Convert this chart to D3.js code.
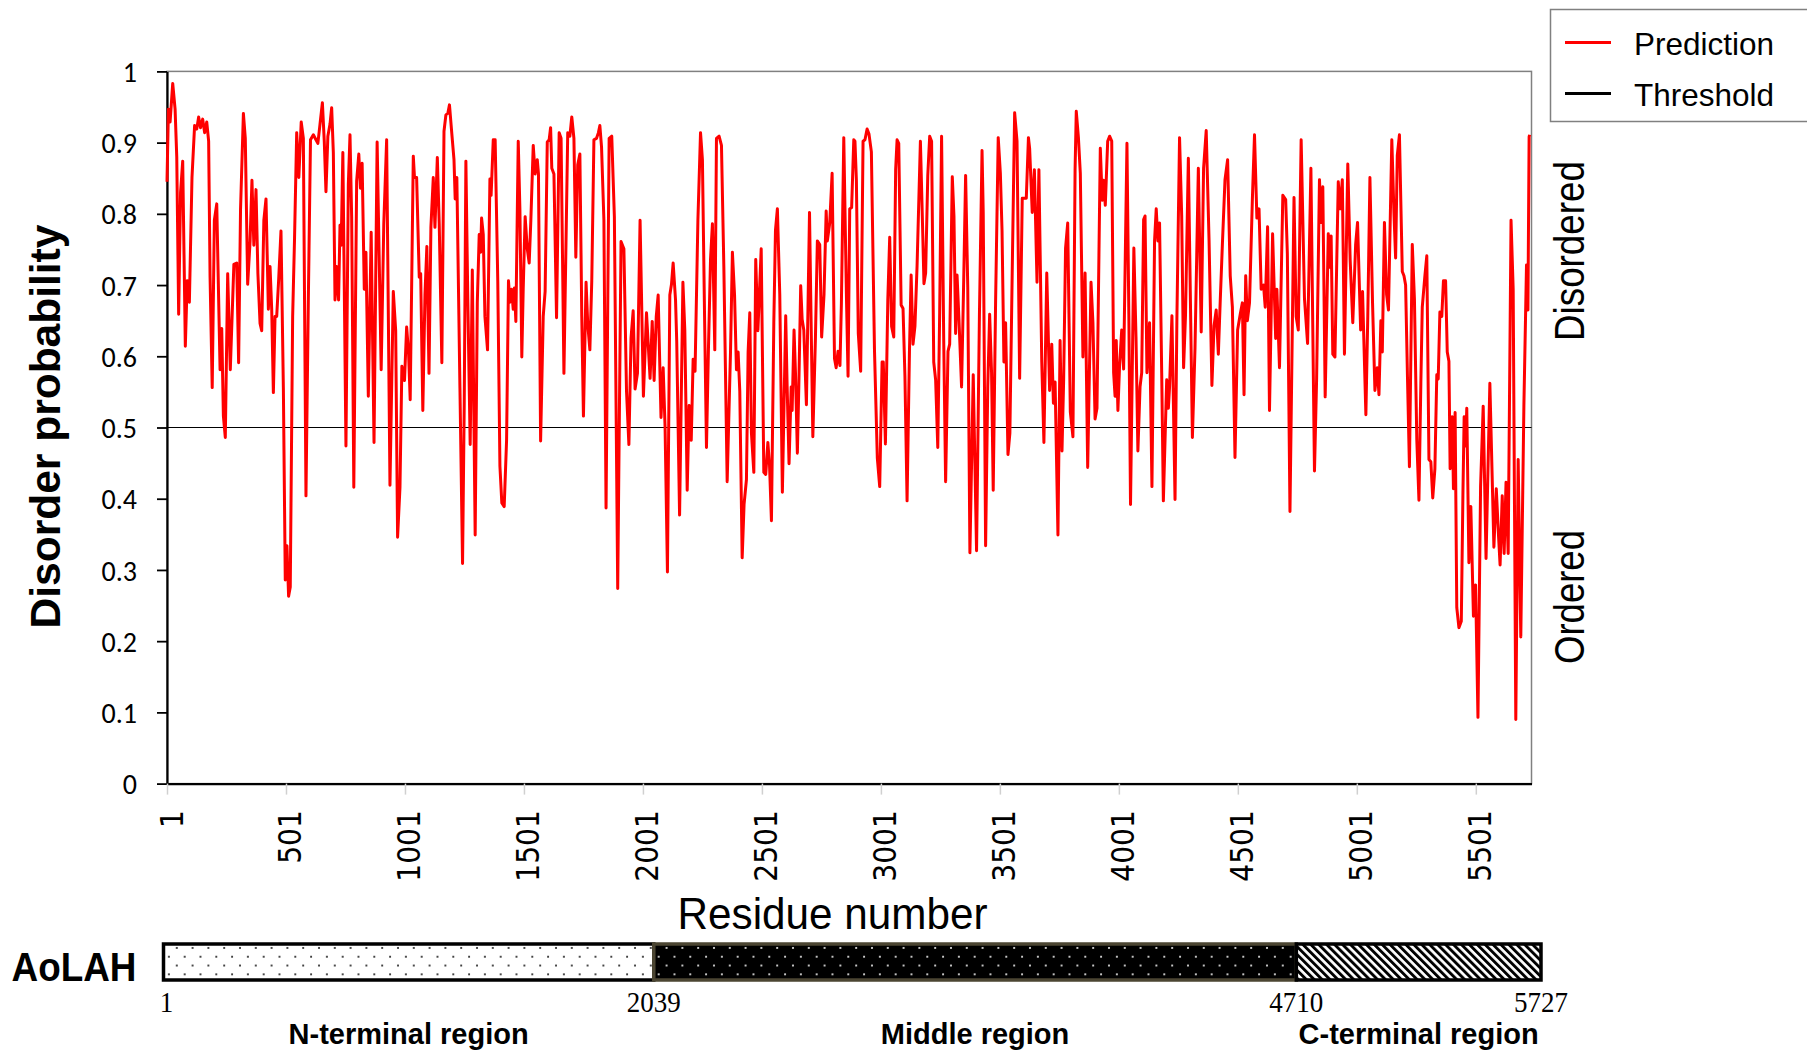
<!DOCTYPE html>
<html><head><meta charset="utf-8">
<script src="https://cdn.jsdelivr.net/npm/d3@7/dist/d3.min.js"></script>
<style>html,body{margin:0;padding:0;background:#fff;overflow:hidden}</style>
</head><body>
<svg id="chart" width="1807" height="1051"></svg>
<script>
// ---- data ----
const residues = [1,7,14,25,35,42,50,58,67,78,86,95,106,117,126,134,142,151,159,168,176,182,191,200,210,224,231,238,246,256,267,282,294,302,310,322,330,340,350,358,366,375,383,392,399,408,417,427,434,441,448,455,462,470,480,490,498,505,512,519,529,537,546,555,565,574,585,595,604,616,627,635,644,654,662,669,677,686,693,700,707,714,722,728,733,740,753,763,770,777,786,798,807,814,821,830,837,847,859,871,884,901,912,924,938,952,962,970,980,988,999,1008,1016,1023,1036,1041,1050,1061,1067,1076,1085,1093,1102,1110,1120,1127,1137,1145,1156,1165,1173,1181,1188,1197,1207,1212,1219,1232,1243,1250,1257,1265,1275,1284,1296,1305,1313,1319,1323,1330,1337,1348,1358,1363,1372,1380,1391,1400,1408,1418,
1428,1436,1442,1449,1456,1461,1467,1477,1484,1492,1498,1506,1515,1523,1530,1540,1548,1557,1562,1571,1582,1590,1599,1607,1613,1618,1627,1638,1649,1657,1669,1685,1694,1702,1711,1719,1727,1736,1744,1751,1762,1769,1778,1786,1795,1806,1814,1820,1827,1837,1846,1859,1870,1881,1895,1909,1921,1932,1942,1951,1960,1968,1978,1989,2003,2016,2031,2040,2048,2057,2065,2077,2086,2094,2104,2114,2121,2128,2138,2143,2155,2169,2177,2187,2195,2204,2212,2220,2232,2243,2251,2260,2268,2276,2285,2293,2303,2310,2321,2331,2341,2355,2369,2377,2386,2394,2401,2408,2418,2426,2436,2443,2450,2457,2467,2475,2484,2489,2498,2509,2517,2526,2533,2541,2551,2558,2566,2576,2587,2601,2607,2615,2624,2628,2636,2642,2650,2656,2664,2670,2677,2688,2701,2706,2715,2726,2734,2744,2752,2762,2771,2776,2786,2796,2806,2813,2821,2829,2835,2845,2856,2863,2870,
2878,2887,2892,2898,2906,2916,2926,2934,2943,2951,2961,2974,2986,2996,3006,3011,3020,3030,3038,3046,3055,3063,3069,3076,3086,3094,3102,3111,3121,3128,3136,3144,3153,3167,3175,3182,3189,3198,3206,3214,3223,3231,3240,3248,3256,3265,3273,3283,3290,3301,3308,3315,3321,3329,3340,3349,3357,3366,3375,3389,3403,3415,3426,3431,3441,3450,3458,3466,3473,3483,3494,3503,3510,3518,3525,3535,3543,3553,3563,3573,3584,3595,3604,3612,3621,3626,3637,3646,3657,3665,3677,3686,3698,3710,3719,3726,3733,3745,3754,3762,3769,3777,3786,3797,3808,3817,3822,3831,3839,3850,3859,3870,3884,3892,3901,3909,3923,3931,3937,3944,3954,3962,3971,3979,3985,3990,3997,4004,4013,4021,4035,4043,4050,4064,4073,4081,4090,4097,4105,4111,4119,4130,4140,4151,4158,4165,4172,4181,4188,4202,4209,4214,4224,4237,4245,4256,4265,4273,4281,4293,
4310,4321,4335,4347,4357,4368,4380,4392,4401,4410,4419,4427,4436,4447,4458,4469,4478,4489,4500,4511,4520,4527,4534,4541,4550,4562,4571,4581,4590,4599,4609,4616,4626,4634,4647,4660,4665,4676,4690,4702,4709,4720,4737,4746,4755,4767,4781,4794,4808,4823,4832,4844,4851,4858,4868,4881,4889,4893,4900,4909,4923,4931,4940,4949,4963,4973,4984,4996,5004,5017,5025,5039,5047,5056,5067,5077,5087,5094,5102,5108,5117,5126,5134,5148,5157,5164,5171,5180,5192,5199,5206,5214,5222,5234,5243,5253,5262,5270,5276,5287,5295,5304,5312,5320,5329,5337,5343,5350,5358,5365,5374,5381,5388,5393,5402,5407,5414,5421,5430,5440,5447,5452,5458,5463,5472,5480,5491,5500,5510,5521,5532,5544,5560,5577,5587,5596,5603,5612,5620,5628,5637,5649,5658,5669,5679,5690,5703,5714,5720,5725,5727];
const disorder = [0.845,0.947,0.929,0.983,0.947,0.880,0.659,0.830,0.874,0.614,0.706,0.676,0.851,0.924,0.919,0.936,0.921,0.933,0.914,0.929,0.902,0.711,0.556,0.791,0.814,0.581,0.639,0.516,0.486,0.716,0.581,0.729,0.731,0.591,0.806,0.941,0.906,0.701,0.761,0.847,0.756,0.834,0.716,0.646,0.636,0.791,0.821,0.666,0.726,0.666,0.549,0.656,0.656,0.706,0.776,0.556,0.286,0.334,0.263,0.276,0.656,0.766,0.914,0.851,0.929,0.906,0.404,0.681,0.904,0.911,0.904,0.899,0.926,0.956,0.901,0.831,0.909,0.926,0.949,0.886,0.679,0.726,0.679,0.784,0.756,0.886,0.474,0.841,0.911,0.796,0.416,0.846,0.884,0.836,0.871,0.694,0.746,0.544,0.774,0.479,0.901,0.581,0.786,0.904,0.419,0.691,0.636,0.346,0.416,0.586,0.566,0.641,0.606,0.539,0.881,0.851,0.851,0.711,0.716,0.524,0.686,0.754,0.576,0.781,0.851,0.781,0.879,0.786,0.591,0.916,0.939,0.941,0.953,0.916,0.876,0.821,0.851,0.556,0.309,0.531,0.874,0.681,0.476,0.721,0.349,0.676,0.771,0.746,0.794,0.771,0.656,0.609,0.849,0.826,0.904,0.904,0.706,0.446,0.394,0.389,
0.482,0.706,0.676,0.694,0.666,0.696,0.649,0.902,0.806,0.599,0.696,0.796,0.751,0.731,0.791,0.896,0.856,0.876,0.856,0.481,0.656,0.691,0.901,0.904,0.921,0.864,0.856,0.654,0.914,0.906,0.576,0.914,0.909,0.936,0.906,0.739,0.869,0.884,0.656,0.516,0.704,0.646,0.609,0.706,0.904,0.906,0.914,0.924,0.894,0.791,0.387,0.906,0.909,0.796,0.274,0.761,0.751,0.551,0.476,0.626,0.664,0.554,0.576,0.791,0.544,0.661,0.569,0.649,0.566,0.656,0.686,0.514,0.584,0.501,0.297,0.686,0.701,0.731,0.679,0.621,0.377,0.704,0.636,0.412,0.531,0.482,0.596,0.579,0.791,0.914,0.876,0.656,0.472,0.606,0.736,0.786,0.609,0.906,0.909,0.896,0.726,0.424,0.606,0.746,0.686,0.581,0.606,0.551,0.317,0.392,0.427,0.606,0.661,0.492,0.437,0.736,0.636,0.676,0.751,0.437,0.434,0.479,0.447,0.369,0.647,0.777,0.807,0.687,0.409,0.657,0.557,0.449,0.557,0.524,0.637,0.577,0.464,0.557,0.699,0.652,0.637,0.532,0.802,0.687,0.487,0.627,0.762,0.757,0.627,0.687,0.804,0.762,0.787,0.857,0.597,0.584,0.607,0.587,0.674,0.907,0.687,0.572,0.807,
0.809,0.904,0.902,0.847,0.632,0.579,0.902,0.904,0.919,0.912,0.887,0.609,0.457,0.417,0.592,0.592,0.477,0.679,0.767,0.642,0.627,0.862,0.904,0.899,0.672,0.667,0.572,0.397,0.607,0.714,0.617,0.642,0.727,0.902,0.797,0.702,0.717,0.854,0.909,0.902,0.592,0.567,0.472,0.662,0.909,0.622,0.424,0.607,0.617,0.852,0.797,0.632,0.714,0.652,0.557,0.707,0.854,0.697,0.324,0.574,0.327,0.657,0.889,0.802,0.334,0.557,0.659,0.577,0.412,0.677,0.907,0.857,0.777,0.592,0.647,0.462,0.492,0.722,0.942,0.902,0.569,0.822,0.822,0.822,0.907,0.892,0.802,0.862,0.704,0.862,0.592,0.479,0.717,0.552,0.617,0.534,0.564,0.349,0.622,0.467,0.567,0.752,0.787,0.522,0.487,0.862,0.944,0.907,0.857,0.599,0.717,0.444,0.704,0.647,0.512,0.527,0.892,0.819,0.847,0.812,0.902,0.909,0.902,0.577,0.544,0.622,0.524,0.587,0.637,0.582,0.899,0.657,0.392,0.752,0.627,0.467,0.557,0.577,0.792,0.797,0.577,0.647,0.417,0.762,0.807,0.762,0.787,0.577,0.397,0.567,0.527,0.557,0.657,0.399,0.657,0.907,0.797,0.584,0.657,0.878,
0.486,0.612,0.864,0.634,0.864,0.917,0.763,0.559,0.643,0.665,0.603,0.678,0.757,0.848,0.876,0.713,0.669,0.458,0.637,0.659,0.675,0.546,0.713,0.650,0.675,0.820,0.911,0.794,0.807,0.694,0.700,0.669,0.782,0.524,0.772,0.625,0.694,0.584,0.826,0.820,0.744,0.382,0.823,0.656,0.637,0.904,0.681,0.618,0.864,0.439,0.568,0.848,0.788,0.838,0.543,0.772,0.725,0.769,0.603,0.599,0.845,0.807,0.848,0.603,0.870,0.735,0.647,0.757,0.788,0.637,0.691,0.518,0.656,0.851,0.675,0.552,0.584,0.546,0.650,0.606,0.788,0.687,0.665,0.904,0.801,0.738,0.882,0.911,0.719,0.713,0.700,0.568,0.445,0.757,0.681,0.483,0.398,0.562,0.669,0.713,0.741,0.455,0.452,0.401,0.442,0.574,0.568,0.662,0.656,0.706,0.706,0.606,0.593,0.442,0.515,0.414,0.521,0.247,0.219,0.228,0.411,0.515,0.474,0.527,0.310,0.389,0.235,0.279,0.093,0.417,0.530,0.316,0.562,0.332,0.414,0.351,0.307,0.404,0.323,0.423,0.323,0.791,0.694,0.090,0.455,0.206,0.530,0.728,0.665,0.908,0.911];
const threshold = [0.5];
const yTicks = [0,0.1,0.2,0.3,0.4,0.5,0.6,0.7,0.8,0.9,1];
const yTickLabels = ["0","0.1","0.2","0.3","0.4","0.5","0.6","0.7","0.8","0.9","1"];
const xTicks = [1,501,1001,1501,2001,2501,3001,3501,4001,4501,5001,5501];
const legendLabels = ["Prediction","Threshold"];
const legendColors = ["#ff0000","#000000"];
const proteinName = "AoLAH";
const proteinLength = 5727;
const regionNames = ["N-terminal region","Middle region","C-terminal region"];
const regionStart = [1,2039,4710];
const regionEnd = [2039,4710,5727];
const boundaryLabels = [1,2039,4710,5727];

// ---- layout ----
const svg = d3.select("#chart");
const L = 167, R = 1531.5, T = 71.4, B = 783.6;
const x = d3.scaleLinear().domain([1,5735]).range([L,R]);
const y = d3.scaleLinear().domain([0,1]).range([B,T]);
const SANS = "'Liberation Sans', Arial, sans-serif";

const defs = svg.append("defs");
const pDotW = defs.append("pattern").attr("id","dotsW").attr("patternUnits","userSpaceOnUse")
  .attr("width",15.8).attr("height",17.6).attr("x",0).attr("y",945);
pDotW.append("rect").attr("width",15.8).attr("height",17.6).attr("fill","#fff");
pDotW.append("circle").attr("cx",3).attr("cy",3).attr("r",0.95).attr("fill","#000");
pDotW.append("circle").attr("cx",10.9).attr("cy",11.8).attr("r",0.95).attr("fill","#000");
const pDotB = defs.append("pattern").attr("id","dotsB").attr("patternUnits","userSpaceOnUse")
  .attr("width",15.8).attr("height",17.6).attr("x",0).attr("y",945);
pDotB.append("rect").attr("width",15.8).attr("height",17.6).attr("fill","#000");
pDotB.append("circle").attr("cx",3).attr("cy",3).attr("r",1).attr("fill","#fff");
pDotB.append("circle").attr("cx",10.9).attr("cy",11.8).attr("r",1).attr("fill","#fff");
const pHatch = defs.append("pattern").attr("id","hatch").attr("patternUnits","userSpaceOnUse")
  .attr("width",5.6).attr("height",10).attr("patternTransform","rotate(-45)");
pHatch.append("rect").attr("width",5.6).attr("height",10).attr("fill","#fff");
pHatch.append("rect").attr("width",2.9).attr("height",10).attr("fill","#000");

// plot frame (top/right gray)
svg.append("rect").attr("x",L).attr("y",T).attr("width",R-L).attr("height",B-T)
  .attr("fill","none").attr("stroke","#808080").attr("stroke-width",1.5);

// y axis
const yAxis = svg.append("g").attr("transform",`translate(${L},0)`)
  .call(d3.axisLeft(y).tickValues(yTicks).tickFormat((d,i)=>yTickLabels[i]).tickSize(10).tickPadding(20).tickSizeOuter(0));
yAxis.select(".domain").attr("stroke","#000").attr("stroke-width",2.2);
yAxis.selectAll(".tick line").attr("stroke","#000").attr("stroke-width",1.8);
yAxis.selectAll(".tick text").attr("font-family","Carlito, Lato, sans-serif").attr("font-size",28)
  .attr("fill","#000").attr("dy","0.36em");

// x axis
const xAxis = svg.append("g").attr("transform",`translate(0,${B})`)
  .call(d3.axisBottom(x).tickValues(xTicks).tickFormat(d3.format("d")).tickSize(11).tickSizeOuter(0));
xAxis.select(".domain").attr("stroke","#000").attr("stroke-width",2.2);
xAxis.selectAll(".tick line").attr("stroke","#d0d0d0").attr("stroke-width",1.5);
xAxis.selectAll(".tick text")
  .attr("font-family","'DejaVu Sans', Verdana, sans-serif").attr("font-size",32)
  .attr("fill","#000").attr("text-anchor","end").attr("dy",0)
  .attr("transform","rotate(-90)").attr("x",-26.5).attr("y",15)
  .attr("textLength",d=>String(d).length*17.9).attr("lengthAdjust","spacingAndGlyphs");

// threshold
svg.append("g").selectAll("line").data(threshold).join("line")
  .attr("x1",L).attr("x2",R).attr("y1",d=>y(d)).attr("y2",d=>y(d))
  .attr("stroke","#000").attr("stroke-width",1.2);

// prediction line
const line = d3.line().x((d,i)=>x(residues[i])).y(d=>y(d));
svg.append("path").datum(disorder).attr("d",line)
  .attr("fill","none").attr("stroke","#ff0000").attr("stroke-width",3)
  .attr("stroke-linejoin","round");

// axis titles
svg.append("text").attr("transform","translate(59.5,426.5) rotate(-90)")
  .attr("text-anchor","middle").attr("font-family",SANS).attr("font-weight","bold")
  .attr("font-size",42.5).text("Disorder probability");
svg.append("text").attr("x",832.6).attr("y",929).attr("text-anchor","middle")
  .attr("font-family",SANS).attr("font-size",44).attr("textLength",310)
  .attr("lengthAdjust","spacingAndGlyphs").text("Residue number");
svg.append("text").attr("transform","translate(1584,251) rotate(-90)")
  .attr("text-anchor","middle").attr("font-family",SANS).attr("font-size",42)
  .attr("textLength",180).attr("lengthAdjust","spacingAndGlyphs").text("Disordered");
svg.append("text").attr("transform","translate(1584,597) rotate(-90)")
  .attr("text-anchor","middle").attr("font-family",SANS).attr("font-size",42)
  .attr("textLength",134).attr("lengthAdjust","spacingAndGlyphs").text("Ordered");

// legend
const lg = svg.append("g");
lg.append("rect").attr("x",1550.5).attr("y",9.5).attr("width",300).attr("height",112)
  .attr("fill","#fff").attr("stroke","#808080").attr("stroke-width",1.5);
const li = lg.selectAll("g.item").data(legendLabels).join("g").attr("class","item")
  .attr("transform",(d,i)=>`translate(0,${42.5+i*51})`);
li.append("line").attr("x1",1565).attr("x2",1611).attr("stroke",(d,i)=>legendColors[i]).attr("stroke-width",3);
li.append("text").attr("x",1634).attr("y",12.5).attr("font-family",SANS).attr("font-size",32)
  .attr("textLength",140).attr("lengthAdjust","spacingAndGlyphs").text(d=>d);

// protein domain bar
const bx = d3.scaleLinear().domain([1,proteinLength]).range([163.5,1541]);
const fills = ["url(#dotsW)","url(#dotsB)","url(#hatch)"];
const strokes = ["#000","#4b4532","#000"];
svg.append("g").selectAll("rect").data(regionNames).join("rect")
  .attr("x",(d,i)=>bx(regionStart[i])).attr("width",(d,i)=>bx(regionEnd[i])-bx(regionStart[i]))
  .attr("y",944).attr("height",36).attr("fill",(d,i)=>fills[i])
  .attr("stroke",(d,i)=>strokes[i]).attr("stroke-width",3.5);
svg.append("text").attr("x",11.5).attr("y",981).attr("font-family",SANS).attr("font-weight","bold")
  .attr("font-size",40).attr("textLength",125).attr("lengthAdjust","spacingAndGlyphs").text(proteinName);
svg.append("g").selectAll("text").data(boundaryLabels).join("text")
  .attr("x",d=>d===1?bx(d)+3:bx(d)).attr("y",1012).attr("text-anchor","middle")
  .attr("font-family","'Liberation Serif','Times New Roman',serif").attr("font-size",29)
  .attr("textLength",d=>String(d).length*13.5).attr("lengthAdjust","spacingAndGlyphs").text(d=>d);
svg.append("g").selectAll("text").data(regionNames).join("text")
  .attr("x",(d,i)=>(bx(regionStart[i])+bx(regionEnd[i]))/2).attr("y",1043.5).attr("text-anchor","middle")
  .attr("font-family",SANS).attr("font-weight","bold").attr("font-size",29).text(d=>d);
</script>
</body></html>
